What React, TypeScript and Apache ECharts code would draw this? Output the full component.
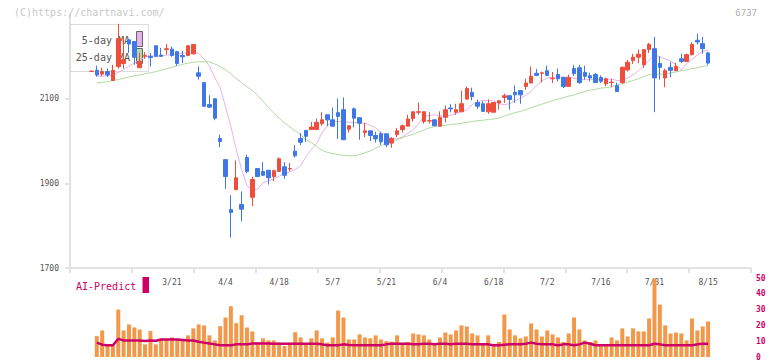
import React, { useEffect, useRef } from 'react';
import * as echarts from 'echarts';

// trading days (first entry has no volume / MA)
const dates = [
  '2/27','2/28','3/3','3/4','3/5','3/6','3/7','3/10','3/11','3/12','3/13','3/14','3/17','3/18','3/19','3/21',
  '3/24','3/25','3/26','3/27','3/28','3/31','4/1','4/2','4/3','4/4','4/7','4/8','4/9','4/10','4/11',
  '4/14','4/15','4/16','4/17','4/18','4/21','4/22','4/23','4/24','4/25','4/28','4/30','5/1','5/2',
  '5/7','5/8','5/9','5/12','5/13','5/14','5/15','5/16','5/19','5/20','5/21','5/22','5/23',
  '5/26','5/27','5/28','5/29','5/30','6/2','6/3','6/4','6/5','6/6','6/9','6/10','6/11','6/12','6/13',
  '6/16','6/17','6/18','6/19','6/20','6/23','6/24','6/25','6/26','6/27','6/30','7/1','7/2','7/3','7/4',
  '7/7','7/8','7/9','7/10','7/11','7/14','7/15','7/16','7/17','7/18','7/22','7/23','7/24','7/25',
  '7/28','7/29','7/30','7/31','8/1','8/4','8/5','8/6','8/7','8/8','8/12','8/13','8/14','8/15'
];
const labelDates = ['3/21','4/4','4/18','5/7','5/21','6/4','6/18','7/2','7/16','7/31','8/15'];
const priceTicks = [1700, 1900, 2100];

const opens = [2164,
  2167,2158,2164,2143,2176,2183,2239,2235,2173,2200,
  2200,2225,2203,2216,2217,2211,2202,2202,2206,2161,
  2138,2086,2100,2006,1956,1838,1885,1850,1961,1867,
  1935,1928,1931,1916,1928,1939,1934,1976,2006,2025,
  2027,2027,2041,2062,2050,2067,2074,2028,2076,2055,
  2020,2024,2013,2017,2017,1995,2015,2027,2035,2053,
  2068,2046,2047,2050,2035,2056,2078,2068,2069,2099,
  2115,2091,2088,2069,2068,2090,2103,2107,2115,2119,
  2129,2137,2160,2160,2166,2147,2157,2150,2129,2171,
  2173,2162,2154,2157,2150,2135,2138,2131,2138,2168,
  2190,2198,2180,2216,2218,2183,2149,2174,2166,2194,
  2188,2204,2238,2230,2208];
const closes = [2165,
  2156,2164,2156,2167,2242,2192,2229,2198,2188,2202,
  2197,2200,2200,2218,2202,2183,2199,2225,2228,2153,
  2082,2080,2054,1999,1916,1831,1913,1839,1928,1909,
  1916,1919,1913,1930,1958,1919,1935,1965,1997,2011,
  2033,2044,2050,2050,2035,2058,2003,2036,2054,2042,
  2024,2013,2005,1998,1991,2006,2024,2036,2052,2069,
  2069,2069,2048,2036,2056,2074,2076,2074,2088,2124,
  2105,2082,2070,2088,2091,2095,2107,2098,2109,2109,
  2137,2153,2155,2161,2155,2148,2147,2129,2150,2159,
  2138,2153,2149,2138,2141,2147,2139,2117,2174,2186,
  2198,2205,2216,2228,2149,2174,2166,2167,2176,2188,
  2204,2228,2234,2218,2184];
const lows = [2164,
  2152,2153,2151,2142,2171,2171,2208,2180,2172,2194,
  2176,2199,2199,2204,2199,2178,2184,2200,2204,2145,
  2082,2078,2049,1985,1887,1772,1884,1810,1924,1846,
  1916,1918,1897,1905,1927,1911,1928,1961,1990,1998,
  2027,2027,2036,2035,2035,2005,2003,2020,2032,2003,
  2009,2000,1996,1991,1985,1984,2009,2020,2035,2046,
  2062,2041,2041,2035,2035,2044,2068,2062,2069,2098,
  2096,2076,2070,2064,2068,2074,2090,2074,2090,2088,
  2121,2137,2153,2138,2153,2137,2141,2125,2128,2154,
  2135,2145,2141,2137,2137,2129,2127,2117,2135,2164,
  2182,2184,2173,2208,2068,2145,2127,2151,2166,2184,
  2187,2202,2228,2206,2180];
const highs = [2166,
  2178,2173,2171,2180,2277,2247,2240,2236,2208,2210,
  2208,2226,2220,2229,2223,2213,2213,2226,2228,2176,
  2138,2108,2100,2015,1956,1872,1954,1881,1968,1916,
  1935,1950,1931,1932,1961,1950,1948,1990,2019,2025,
  2045,2053,2068,2062,2079,2100,2103,2036,2079,2055,
  2043,2024,2022,2022,2017,2009,2031,2039,2062,2070,
  2091,2070,2068,2050,2070,2084,2087,2088,2119,2129,
  2126,2098,2094,2098,2092,2096,2112,2108,2131,2120,
  2147,2176,2170,2164,2178,2163,2171,2151,2157,2180,
  2180,2178,2161,2161,2155,2150,2147,2138,2176,2192,
  2206,2216,2216,2232,2246,2200,2171,2187,2185,2206,
  2206,2233,2253,2246,2210];
const ma5 = [null,
  2153,2153,2154,2157,2162,2169,2177,2184,2191,2199,
  2201,2200,2201,2203,2204,2206,2207,2208,2209,2207,
  2194,2177,2150,2126,2081,2034,1980,1933,1894,1885,
  1886,1902,1906,1910,1917,1922,1927,1933,1941,1963,
  1980,1994,2019,2037,2046,2046,2046,2044,2044,2043,
  2042,2037,2031,2020,2012,2006,2005,2010,2018,2026,
  2041,2058,2060,2062,2060,2059,2061,2065,2069,2074,
  2086,2092,2096,2095,2095,2088,2086,2088,2095,2101,
  2108,2117,2131,2142,2149,2150,2151,2151,2151,2148,
  2146,2145,2145,2145,2145,2146,2146,2143,2143,2149,
  2156,2166,2177,2191,2203,2199,2194,2189,2180,2168,
  2183,2193,2203,2212,2214];
const ma25 = [null,
  2137,2139,2140,2143,2145,2148,2151,2154,2156,2159,
  2161,2164,2167,2171,2174,2178,2181,2184,2186,2187,
  2187,2187,2182,2176,2168,2159,2147,2138,2128,2119,
  2108,2094,2079,2066,2054,2043,2033,2024,2015,2003,
  1996,1987,1978,1973,1970,1968,1966,1965,1965,1968,
  1972,1977,1983,1989,1994,1998,2003,2008,2012,2016,
  2021,2026,2031,2034,2036,2037,2039,2040,2042,2044,
  2046,2048,2049,2051,2052,2054,2059,2063,2067,2070,
  2074,2079,2083,2087,2091,2095,2099,2102,2106,2109,
  2113,2117,2120,2122,2125,2126,2128,2132,2135,2139,
  2143,2147,2152,2157,2157,2158,2158,2161,2163,2166,
  2168,2171,2173,2176,2178];
const volumes = [null,
  13.2,16.8,8,8,30,16.8,20.6,18.7,17.4,8,
  16.4,8,11.1,11.1,12.4,11.1,11.1,13.7,18.1,20.6,
  20,13.7,10.5,19.5,25,32.1,21.4,26.4,18.7,16.2,
  9.1,11.8,10.5,10.5,9.1,6.9,9.1,15.7,12.4,8,
  11.8,16.8,11.8,9.1,12.4,29.4,25,11.1,11.1,14.3,
  12.4,11.8,13.7,11.1,10,9.7,13.7,8,9.5,14.9,
  14.3,13.7,11.1,8,12.4,15.5,14.3,16.8,20,19.3,
  14.9,13.7,8,13.7,7.5,9.5,26.9,17.4,13.7,11.8,
  13,21.2,17.4,13,16.8,14.3,12.4,9.5,14.9,25,
  17.4,10.5,9.5,10.5,7.5,7.5,12.4,10.5,18.1,13,
  18.1,16.2,16.2,24.4,49.4,33.2,20,14.9,15.5,14.9,
  10.5,24.4,16.8,19.3,22.5];
const aiPredict = [null,
  9.1,7.8,7.4,7.4,11.5,10.5,10.5,10.5,10.5,10.1,
  10.5,10.3,11.1,11.1,11.1,11.1,10.8,10.5,10.5,9.7,
  9.1,8.6,8,7.4,7.4,7.4,8,8,8,8.6,
  8.6,8.6,8.6,8.4,8.4,8.4,8.4,8.4,8.4,8.4,
  8.4,8.4,8,7.4,7.4,7.4,8,7.6,7.4,7.4,
  7.4,7.4,7.4,7.4,8,8.4,8.4,8.4,8.4,8,
  8,8.4,8.4,8,8.4,8.4,8,8.4,8.4,8.4,
  8,8,8,8,7.4,7.4,7.8,8,8,8,
  8.4,9.1,8.4,8,8,8,7.4,8,8,7.4,
  8,9.1,8.4,7.4,7.4,7.4,7.4,7.4,7.4,7.4,
  7.4,7.4,7.4,7.4,8.4,8,7.4,7.4,7.4,7.4,
  7.4,7.4,8,8.4,8.4];

const PAD_L = 4;
const PAD_R = 8;
const UP = '#f04e3c';
const DOWN = '#3f78e6';
const MONO = "'DejaVu Sans Mono', monospace";

function pad<T>(arr: T[], fill: any): any[] {
  const l = Array.from({ length: PAD_L }, () => fill);
  const r = Array.from({ length: PAD_R }, () => fill);
  return [...l, ...arr.map((v) => (v === null ? fill : v)), ...r];
}

export default function App() {
  const ref = useRef<HTMLDivElement>(null);
  useEffect(() => {
    const chart = echarts.init(ref.current!, null, { renderer: 'svg' });
    const categories = [
      ...Array.from({ length: PAD_L }, (_, i) => 'padL' + i),
      ...dates,
      ...Array.from({ length: PAD_R }, (_, i) => 'padR' + i),
    ];
    const candles = pad(dates.map((_, i) => [opens[i], closes[i], lows[i], highs[i]]), '-');
    const gridL = 70;
    const gridW = 681;
    const option: any = {
      animation: false,
      backgroundColor: '#ffffff',
      grid: [
        { left: gridL, width: gridW, top: 14, height: 254 },
        { left: gridL, width: gridW, top: 278, height: 80 },
      ],
      xAxis: [
        {
          type: 'category', gridIndex: 0, data: categories, boundaryGap: false,
          axisLine: { onZero: false, lineStyle: { color: '#e2e2e2', width: 2 } },
          axisTick: { show: false },
          splitLine: { show: false },
          axisLabel: {
            interval: (_i: number, v: string) => labelDates.includes(v),
            color: '#555', fontSize: 8, fontFamily: MONO, margin: 10,
          },
        },
        {
          type: 'value', gridIndex: 0, min: 0, max: 11, interval: 1, position: 'bottom',
          axisLine: { show: false, onZero: false },
          axisLabel: { show: false },
          splitLine: { show: false },
          axisTick: { show: true, length: 5, lineStyle: { color: '#e2e2e2', width: 2 } },
        },
        {
          type: 'category', gridIndex: 1, data: categories, boundaryGap: false, show: false,
        },
      ],
      yAxis: [
        {
          type: 'value', gridIndex: 0, min: 1700, max: 2300, interval: 200,
          axisLine: { show: true, onZero: false, lineStyle: { color: '#e2e2e2', width: 2 } },
          axisTick: { show: true, length: 5, customValues: priceTicks, lineStyle: { color: '#e2e2e2', width: 2 } },
          axisLabel: {
            customValues: priceTicks, color: '#555', fontSize: 8, fontFamily: MONO, margin: 11,
            formatter: (v: number) => String(v),
          },
          splitLine: { show: false },
        },
        {
          type: 'value', gridIndex: 1, position: 'right', min: 0, max: 50, interval: 10,
          axisLine: { show: false }, axisTick: { show: false }, splitLine: { show: false },
          axisLabel: {
            color: '#cc0066', fontSize: 8, fontWeight: 'bold', fontFamily: MONO, margin: 5,
            formatter: (v: number) => String(v),
          },
        },
      ],
      series: [
        {
          type: 'candlestick', xAxisIndex: 0, yAxisIndex: 0, data: candles, barWidth: 4,
          itemStyle: { color: UP, color0: DOWN, borderColor: UP, borderColor0: DOWN, borderWidth: 1 },
          z: 3,
        },
        {
          type: 'line', xAxisIndex: 0, yAxisIndex: 0, data: pad(ma5, '-'), showSymbol: false,
          lineStyle: { color: '#e6b2ea', width: 1 }, z: 2,
        },
        {
          type: 'line', xAxisIndex: 0, yAxisIndex: 0, data: pad(ma25, '-'), showSymbol: false,
          lineStyle: { color: '#b2d9a2', width: 1 }, z: 2,
        },
        {
          type: 'bar', xAxisIndex: 2, yAxisIndex: 1, data: pad(volumes, '-'), barWidth: 4,
          itemStyle: { color: '#f2984a' },
        },
        {
          type: 'line', xAxisIndex: 2, yAxisIndex: 1, data: pad(aiPredict, '-'), showSymbol: false,
          lineStyle: { color: '#cc0066', width: 2.5 }, z: 4,
        },
      ],
      graphic: [
        {
          type: 'rect', z: 1, shape: { x: 70.5, y: 24.5, width: 78, height: 47 },
          style: { fill: 'rgba(255,255,255,0.9)', stroke: '#dcdcdc', lineWidth: 1 },
        },
        {
          type: 'text', z: 1, x: 130, y: 40,
          style: { text: '5-day MA', fill: '#555', font: `10px ${MONO}`, align: 'right', verticalAlign: 'middle' },
        },
        {
          type: 'text', z: 1, x: 130, y: 57.5,
          style: { text: '25-day MA', fill: '#555', font: `10px ${MONO}`, align: 'right', verticalAlign: 'middle' },
        },
        {
          type: 'rect', z: 1, shape: { x: 136.5, y: 31.5, width: 6, height: 15 },
          style: { fill: '#e6b2ea', stroke: '#666', lineWidth: 1 },
        },
        {
          type: 'rect', z: 1, shape: { x: 136.5, y: 48.5, width: 6, height: 15 },
          style: { fill: '#b2d9a2', stroke: '#666', lineWidth: 1 },
        },
        {
          type: 'text', z: 10, x: 14, y: 12.5,
          style: { text: '(C)https://chartnavi.com/', fill: '#c8c8c8', font: `10px ${MONO}`, verticalAlign: 'middle' },
        },
        {
          type: 'text', z: 10, x: 757, y: 12.5,
          style: { text: '6737', fill: '#b0b0b0', font: `9px ${MONO}`, align: 'right', verticalAlign: 'middle' },
        },
        {
          type: 'text', z: 10, x: 76, y: 286,
          style: { text: 'AI-Predict', fill: '#cc0066', font: `10px ${MONO}`, verticalAlign: 'middle' },
        },
        {
          type: 'rect', z: 10, shape: { x: 142.5, y: 277, width: 6.5, height: 16 },
          style: { fill: '#cc0066' },
        },
      ],
    };
    chart.setOption(option);
    return () => chart.dispose();
  }, []);
  return (
    <div
      ref={ref}
      style={{ position: 'fixed', left: 0, top: 0, width: 772, height: 361, background: '#fff' }}
    />
  );
}
